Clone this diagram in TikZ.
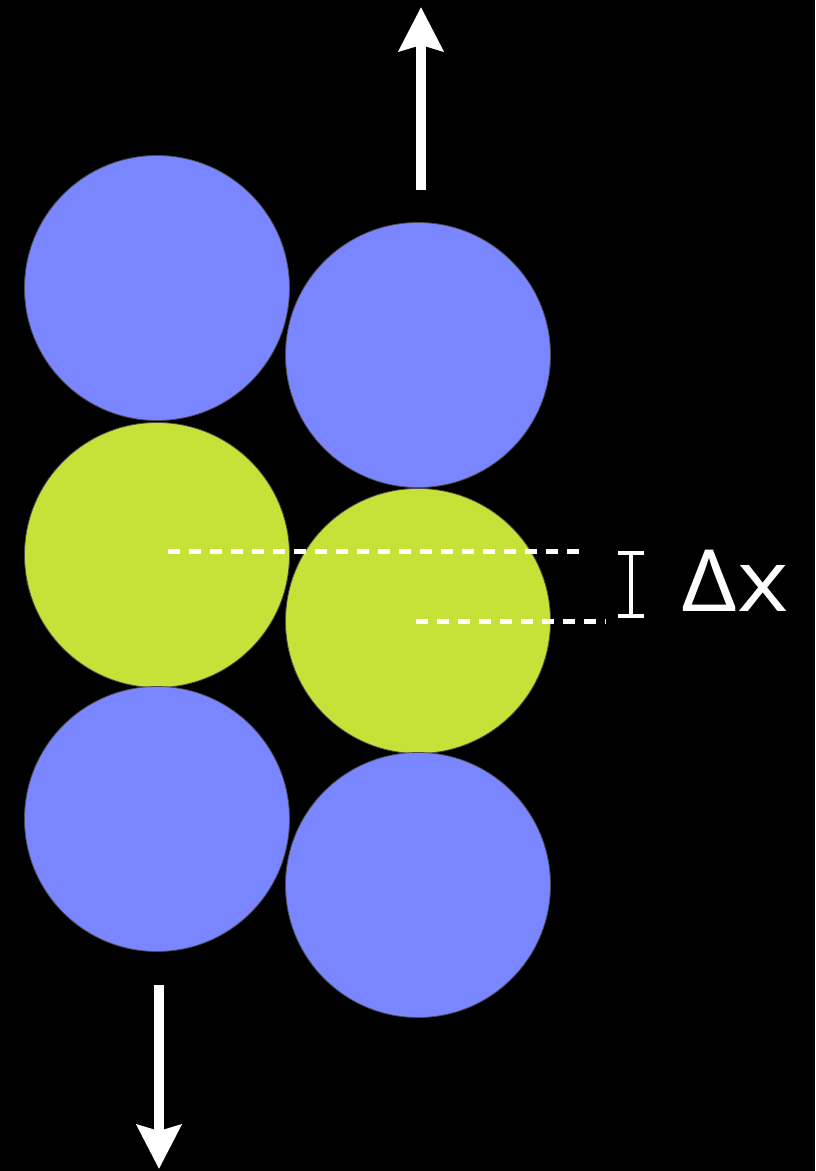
\documentclass[tikz,border=0pt]{standalone}
\usepackage{fontspec}
\setmainfont{Open Sans}
\usetikzlibrary{arrows.meta}
\definecolor{ballblue}{HTML}{7A86FF}
\definecolor{ballgreen}{HTML}{C6E239}
\begin{document}
\begin{tikzpicture}[x=1pt,y=-1pt,
  ball/.style={circle, minimum size=265pt, inner sep=0pt, draw=black!70, line width=0.8pt},
  blueball/.style={ball, fill=ballblue},
  greenball/.style={ball, fill=ballgreen},
  guide/.style={white, line width=5pt, dash pattern=on 12pt off 9pt},
  bigarrow/.style={white, line width=10pt, -{Stealth[length=44pt,width=44pt,inset=6pt]}}
]
\fill[black] (0,0) rectangle (815,1171);
\useasboundingbox (0,0) rectangle (815,1171);
\node[blueball] (L1) at (157,288) {};
\node[greenball] (L2) at (157,555) {};
\node[blueball] (L3) at (157,819) {};
\node[blueball] (R1) at (418,355) {};
\node[greenball] (R2) at (418,621) {};
\node[blueball] (R3) at (418,885) {};
% dashed guides
\coordinate (g1a) at (168,551);
\coordinate (g1b) at (584,551);
\coordinate (g2a) at (416,621);
\coordinate (g2b) at (606,621);
\draw[guide] (g1a) -- (g1b);
\draw[guide] (g2a) -- (g2b);
% I bar
\coordinate (ia) at (631,553);
\coordinate (ib) at (631,616);
\draw[white, line width=3.5pt] (ia) -- (ib);
\draw[white, line width=3.5pt] (618,553) -- (644,553);
\draw[white, line width=3.5pt] (618,616) -- (644,616);
\node[text=white, font=\fontsize{86}{90}\selectfont, inner sep=0pt, anchor=base] (dx) at (735,611) {\scalebox{1.14}[1]{Δx}};
% arrows
\coordinate (ua) at (421,190);
\coordinate (ub) at (421,7);
\draw[bigarrow] (ua) -- (ub);
\coordinate (da) at (159,985);
\coordinate (db) at (159,1169);
\draw[bigarrow] (da) -- (db);
\end{tikzpicture}
\end{document}
